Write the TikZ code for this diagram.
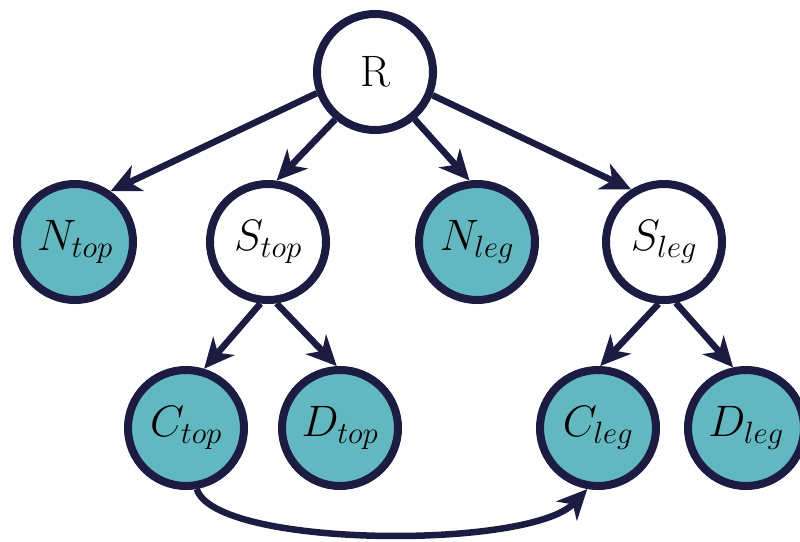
\RequirePackage{fix-cm}
\documentclass[tikz,border=0pt]{standalone}
\usetikzlibrary{arrows.meta}
\definecolor{navy}{HTML}{1C1B42}
\definecolor{teal2}{HTML}{62B8C1}
\begin{document}
\begin{tikzpicture}[x=1pt,y=-1pt,
  vtx/.style={circle,draw=navy,line width=8pt,minimum size=116pt,inner sep=0pt,
    font=\fontsize{44}{48}\selectfont},
  leaf/.style={vtx,fill=teal2},
  inner/.style={vtx,fill=white},
  edge/.style={draw=navy,line width=6.5pt,
    -{Stealth[length=30pt,width=28pt,inset=9pt]}}]
\useasboundingbox (0,0) rectangle (800,541);
\node[inner] (R) at (375,72) {R};
\node[leaf] (Ntop) at (75,242) {$N_{top}$};
\node[inner] (Stop) at (268,242) {$S_{top}$};
\node[leaf] (Nleg) at (477,242) {$N_{leg}$};
\node[inner] (Sleg) at (664,242) {$S_{leg}$};
\node[leaf] (Ctop) at (186,428) {$C_{top}$};
\node[leaf] (Dtop) at (340,428) {$D_{top}$};
\node[leaf] (Cleg) at (598,428) {$C_{leg}$};
\node[leaf] (Dleg) at (746,428) {$D_{leg}$};
\draw[edge] (R.-160) -- (Ntop.55);
\draw[edge] (R.-130) -- (Stop.82);
\draw[edge] (R.-50) -- (Nleg.97);
\draw[edge] (R.-22) -- (Sleg.122);
\draw[edge] (Stop.-97) -- (Ctop.73);
\draw[edge] (Stop.-82) -- (Dtop.93);
\draw[edge] (Sleg.-95) -- (Cleg.88);
\draw[edge] (Sleg.-79) -- (Dleg.102);
\draw[edge] (Ctop.-80) .. controls (215,548) and (530,550) .. (Cleg.-100);
\end{tikzpicture}
\end{document}
